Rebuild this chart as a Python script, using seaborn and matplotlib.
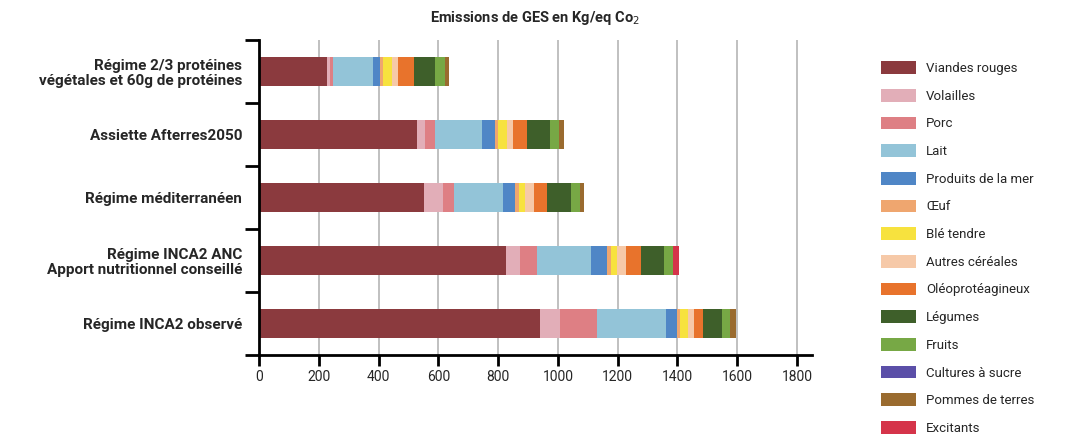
import numpy as np
import pandas as pd
import matplotlib
matplotlib.use("Agg")
import matplotlib.pyplot as plt
from matplotlib.patches import Patch
import seaborn as sns

categories = [
    "Régime 2/3 protéines\nvégétales et 60g de protéines",
    "Assiette Afterres2050",
    "Régime méditerranéen",
    "Régime INCA2 ANC\nApport nutritionnel conseillé",
    "Régime INCA2 observé",
]

series_names = [
    "Viandes rouges", "Volailles", "Porc", "Lait", "Produits de la mer", "Œuf",
    "Blé tendre", "Autres céréales", "Oléoprotéagineux", "Légumes", "Fruits",
    "Cultures à sucre", "Pommes de terres", "Excitants",
]

viandes_rouges = [227, 528, 551, 826, 939]
volailles = [9, 28, 65, 46, 67]
porc = [13, 34, 38, 58, 125]
lait = [134, 156, 162, 179, 229]
produits_mer = [22, 45, 42, 56, 37]
oeuf = [9, 8, 11, 13, 11]
ble_tendre = [30, 31, 22, 20, 28]
autres_cereales = [20, 20, 28, 30, 19]
oleoproteagineux = [55, 47, 45, 51, 31]
legumes = [70, 76, 80, 75, 64]
fruits = [34, 30, 31, 31, 26]
cultures_sucre = [0, 0, 0, 0, 0]
pommes_terre = [13, 19, 11, 0, 19]
excitants = [0, 0, 0, 19, 0]

colors = [
    "#8B3A3E", "#E2AEB8", "#DE7F84", "#93C4D8", "#4F86C6", "#EFA66F",
    "#F7E23E", "#F6C9A8", "#E8732C", "#3E5F2A", "#77A845", "#5B4FA8",
    "#9A6B2F", "#D5344A",
]

xticks = [0, 200, 400, 600, 800, 1000, 1200, 1400, 1600, 1800]

values = np.array([
    viandes_rouges, volailles, porc, lait, produits_mer, oeuf, ble_tendre,
    autres_cereales, oleoproteagineux, legumes, fruits, cultures_sucre,
    pommes_terre, excitants,
], dtype=float)
cum = np.cumsum(values, axis=0)

sns.set_theme(style="white")
FAM = ["Roboto", "DejaVu Sans"]
plt.rcParams["font.family"] = FAM

fig = plt.figure(figsize=(10.72, 4.44), dpi=100)
ax = fig.add_axes([259 / 1072, 89 / 444, (812 - 259) / 1072, (355 - 40) / 444])

for i in reversed(range(len(series_names))):
    df = pd.DataFrame({"cat": categories, "val": cum[i]})
    sns.barplot(data=df, x="val", y="cat", orient="h", color=colors[i],
                saturation=1, width=0.47, errorbar=None, ax=ax, linewidth=0)

ax.set_xlim(0, 1850)
ax.set_ylim(4.5, -0.5)
ax.set_xlabel("")
ax.set_ylabel("")
ax.set_axisbelow(True)
ax.set_xticks(xticks)
ax.set_xticklabels([str(t) for t in xticks], fontsize=10)
ax.xaxis.grid(True, color="#b5b5b5", linewidth=1.2)
ax.yaxis.grid(False)

for s in ["top", "right"]:
    ax.spines[s].set_visible(False)
for s in ["left", "bottom"]:
    ax.spines[s].set_color("black")
    ax.spines[s].set_linewidth(2)

ax.tick_params(axis="x", which="major", direction="out", length=8, width=2,
               color="black", pad=3, bottom=True)
ax.tick_params(axis="y", which="major", length=0, pad=12)
ax.set_yticks(np.arange(-0.5, 5.0, 1.0), minor=True)
ax.tick_params(axis="y", which="minor", direction="out", length=10, width=2,
               color="black", left=True)
for lab in ax.get_yticklabels():
    lab.set_fontweight("bold")
    lab.set_fontsize(11)
    lab.set_horizontalalignment("right")
    lab.set_multialignment("right")
    lab.set_linespacing(1.05)

fig.text(535 / 1072, 1 - 18 / 444, "Emissions de GES en Kg/eq Co$_2$",
         ha="center", va="center", fontsize=10.5, fontweight="bold")

handles = [Patch(facecolor=c, edgecolor="none", label=n)
           for n, c in zip(series_names, colors)]
fig.legend(handles=handles, loc="upper left", bbox_to_anchor=(876 / 1072, 1 - 56 / 444),
           frameon=False, fontsize=9.5, handlelength=2.65, handleheight=1.1,
           labelspacing=1.05, handletextpad=0.75, borderaxespad=0)

fig.savefig("out.png", dpi=100)
